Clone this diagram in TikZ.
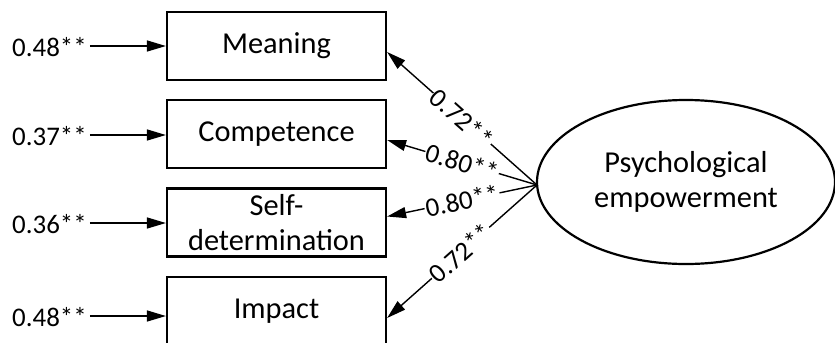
\documentclass[tikz,border=0pt]{standalone}
\usepackage{fontspec}
\setmainfont{Carlito}
\usetikzlibrary{arrows.meta,shapes.geometric}
\tikzset{
  box/.style={draw, line width=2.2bp, minimum width=219bp, minimum height=68bp,
    inner sep=0pt, align=center, font=\fontsize{30.5}{35}\selectfont},
  latent/.style={draw, ellipse, line width=2.2bp, minimum width=298bp, minimum height=164bp,
    inner sep=0pt, align=center, font=\fontsize{30.5}{35}\selectfont},
  errlab/.style={inner sep=0pt, anchor=west, font=\fontsize{27}{30}\selectfont},
  arr/.style={line width=1.4bp, -{Triangle[length=19bp,width=11bp]}},
  coef/.style={sloped, fill=white, inner sep=1bp, font=\fontsize{27}{30}\selectfont}
}
\begin{document}
\begin{tikzpicture}[x=1bp,y=-1bp]
\useasboundingbox (0,0) rectangle (835,342);
\clip (0,0) rectangle (835,342);
% indicator boxes
\node[box] (mean) at (276.5,46) {Meaning};
\node[box] (comp) at (276.5,134) {Competence};
\node[box] (self) at (276.5,222.5) {Self-\\determination};
\node[box] (imp)  at (276.5,311) {Impact};
% latent factor
\node[latent] (pe) at (686,182) {Psychological\\empowerment};
% residual terms
\node[errlab] (e1) at (12,47) {0.48**};
\node[errlab] (e2) at (12,136) {0.37**};
\node[errlab] (e3) at (12,224) {0.36**};
\node[errlab] (e4) at (12,317) {0.48**};
\draw[arr] (e1.east) ++(3,-1) coordinate (s1) -- (s1 -| mean.west);
\draw[arr] (e2.east) ++(3,-1) coordinate (s2) -- (s2 -| comp.west);
\draw[arr] (e3.east) ++(3,-1) coordinate (s3) -- (s3 -| self.west);
\draw[arr] (e4.east) ++(3,-1) coordinate (s4) -- (s4 -| imp.west);
% loadings
\coordinate (src) at (537,185);
\draw[arr] (src) -- node[coef, pos=0.5] {0.72**} ([yshift=-6bp]mean.east);
\draw[arr] (src) -- node[coef, pos=0.5] {0.80**} ([yshift=-6bp]comp.east);
\draw[arr] (src) -- node[coef, pos=0.5] {0.80**} ([yshift=6bp]self.east);
\draw[arr] (src) -- node[coef, pos=0.51] {0.72**} ([yshift=-7bp]imp.east);
\end{tikzpicture}
\end{document}
